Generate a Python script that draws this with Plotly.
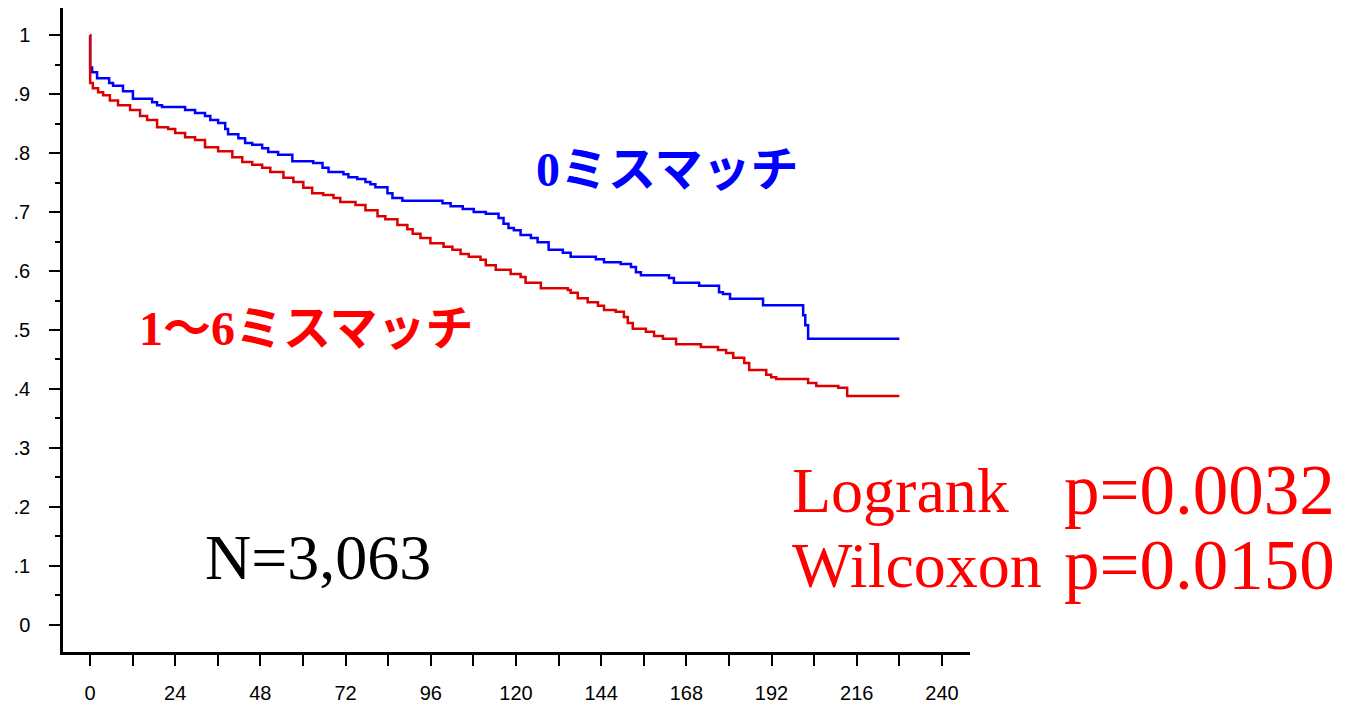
import plotly.graph_objects as go

# ---- data (months, survival) ----
blue_t = [0, 0.05, 0.6, 2.0, 5.4, 6.5, 9.3, 12.1, 17.5, 18.9, 20.3, 26.8, 29.6, 32.4, 33.9, 36.1,
          38.1, 38.9, 41.8, 43.7, 45.7, 48.5, 50.2, 53.0, 57.0, 62.9, 65.5, 67.2, 71.4, 72.8,
          75.3, 77.6, 79.0, 80.4, 83.8, 85.2, 88.0, 99.3, 101.6, 105.0, 108.1, 111.5, 115.1,
          116.5, 117.9, 119.4, 121.3, 124.2, 126.1, 129.2, 133.2, 135.4, 142.5, 144.8, 149.5,
          152.4, 153.8, 155.2, 163.1, 164.5, 171.6, 177.2, 178.3, 180.3, 189.6, 200.9, 201.5,
          202.3, 228.0]
blue_s = [1.0, 0.945, 0.937, 0.927, 0.919, 0.914, 0.905, 0.892, 0.886, 0.881, 0.878, 0.873, 0.868,
          0.863, 0.856, 0.851, 0.841, 0.832, 0.825, 0.817, 0.814, 0.808, 0.802, 0.797, 0.786,
          0.783, 0.775, 0.768, 0.764, 0.759, 0.756, 0.751, 0.747, 0.742, 0.732, 0.724, 0.719,
          0.715, 0.710, 0.705, 0.700, 0.697, 0.690, 0.680, 0.673, 0.669, 0.661, 0.656, 0.649,
          0.636, 0.631, 0.624, 0.620, 0.615, 0.612, 0.607, 0.598, 0.593, 0.588, 0.580, 0.575,
          0.564, 0.561, 0.553, 0.542, 0.525, 0.508, 0.485, 0.485]

red_t = [0, 0.05, 0.8, 2.3, 3.7, 5.6, 7.9, 11.3, 14.1, 16.1, 18.9, 22.0, 24.0, 26.8, 29.6, 32.4,
         36.1, 40.1, 42.9, 45.7, 48.5, 50.8, 54.5, 57.3, 60.1, 62.6, 65.7, 68.6, 70.5, 74.8,
         77.6, 81.0, 83.2, 86.6, 89.4, 90.9, 93.1, 95.9, 99.6, 102.1, 104.4, 106.7, 110.0,
         111.5, 114.3, 118.5, 121.3, 122.7, 127.0, 134.6, 135.4, 137.4, 140.2, 143.1, 144.8,
         148.1, 150.4, 151.5, 152.9, 156.6, 158.9, 161.4, 165.1, 172.1, 176.9, 179.2, 181.2,
         184.3, 185.7, 190.5, 191.9, 193.3, 202.3, 204.6, 210.8, 213.3, 228.0]
red_s = [1.0, 0.919, 0.910, 0.903, 0.898, 0.889, 0.881, 0.873, 0.863, 0.856, 0.844, 0.841, 0.834,
         0.827, 0.822, 0.810, 0.803, 0.793, 0.785, 0.780, 0.775, 0.768, 0.758, 0.751, 0.741,
         0.732, 0.729, 0.724, 0.717, 0.712, 0.703, 0.693, 0.688, 0.678, 0.671, 0.663, 0.656,
         0.647, 0.641, 0.636, 0.629, 0.624, 0.619, 0.610, 0.602, 0.595, 0.590, 0.580, 0.571,
         0.568, 0.563, 0.554, 0.547, 0.541, 0.534, 0.531, 0.522, 0.512, 0.502, 0.497, 0.490,
         0.485, 0.476, 0.471, 0.466, 0.461, 0.453, 0.444, 0.432, 0.424, 0.420, 0.417, 0.410,
         0.405, 0.402, 0.388, 0.388]

x_tickvals = [0, 24, 48, 72, 96, 120, 144, 168, 192, 216, 240]
y_tickvals = [0, 0.1, 0.2, 0.3, 0.4, 0.5, 0.6, 0.7, 0.8, 0.9, 1.0]
y_ticktext = ["0", ".1", ".2", ".3", ".4", ".5", ".6", ".7", ".8", ".9", "1"]

W, H = 1354, 706
L, R, T, B = 63, 970, 8, 652  # plot area pixels


def px(x):
    return (x - L) / (R - L)


def py(y):
    return (B - y) / (B - T)


fig = go.Figure()
fig.add_trace(go.Scatter(x=blue_t, y=blue_s, mode="lines", line=dict(color="#0000FF", width=2.5, shape="hv"),
                         showlegend=False, hoverinfo="skip"))
fig.add_trace(go.Scatter(x=red_t, y=red_s, mode="lines", line=dict(color="#DD0000", width=2.5, shape="hv"),
                         showlegend=False, hoverinfo="skip"))

tickfont = dict(family="Liberation Sans, Arial, sans-serif", size=20, color="black")

fig.update_xaxes(range=[-7.6, 247.9], tickvals=x_tickvals, ticks="outside", ticklen=11, tickwidth=2,
                 tickcolor="black", showline=True, linecolor="black", linewidth=2.5, showgrid=False,
                 zeroline=False, tickfont=tickfont, ticklabelstandoff=10, automargin=False,
                 minor=dict(dtick=12, tick0=0, ticks="outside", ticklen=11, tickwidth=2, tickcolor="black",
                            showgrid=False))
fig.update_yaxes(range=[-0.046, 1.046], tickvals=y_tickvals, ticktext=y_ticktext, ticks="outside", ticklen=11,
                 tickwidth=2, tickcolor="black", showline=True, linecolor="black", linewidth=2.5,
                 showgrid=False, zeroline=False, tickfont=tickfont, ticklabelstandoff=15, automargin=False,
                 minor=dict(dtick=0.05, tick0=0, ticks="outside", ticklen=5, tickwidth=2, tickcolor="black",
                            showgrid=False))

serif = "Liberation Serif, Times New Roman, serif"
jp = "Liberation Serif, Noto Sans CJK JP, serif"
ann = [
    dict(text="<b>0ミスマッチ</b>", x=px(534), y=py(170), xanchor="left", yanchor="middle",
         font=dict(family=jp, size=48, color="#0000FF")),
    dict(text="<b>1〜6ミスマッチ</b>", x=px(137), y=py(328), xanchor="left", yanchor="middle",
         font=dict(family=jp, size=48, color="#FF0000")),
    dict(text="N=3,063", x=px(203), y=py(557), xanchor="left", yanchor="middle",
         font=dict(family=serif, size=64, color="black")),
    dict(text="Logrank", x=px(790), y=py(490), xanchor="left", yanchor="middle",
         font=dict(family=serif, size=64, color="#FF0000")),
    dict(text="p=0.0032", x=px(1062), y=py(490), xanchor="left", yanchor="middle",
         font=dict(family=serif, size=71, color="#FF0000")),
    dict(text="Wilcoxon", x=px(790), y=py(565), xanchor="left", yanchor="middle",
         font=dict(family=serif, size=64, color="#FF0000")),
    dict(text="p=0.0150", x=px(1062), y=py(565), xanchor="left", yanchor="middle",
         font=dict(family=serif, size=71, color="#FF0000")),
]
for a in ann:
    a.update(xref="paper", yref="paper", showarrow=False)

fig.update_layout(width=W, height=H, margin=dict(l=L, r=W - R, t=T, b=H - B),
                  plot_bgcolor="white", paper_bgcolor="white", annotations=ann)

# the page's default 8px body margin would shift the whole figure; remove it
fig.write_html("out.html", config={"displayModeBar": False},
               post_script="document.body.style.margin='0';document.body.style.overflow='hidden';")
